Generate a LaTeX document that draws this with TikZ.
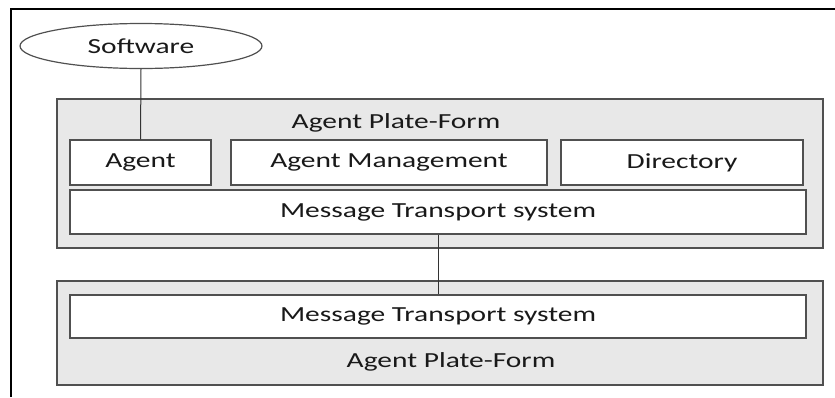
\documentclass[tikz,border=0pt]{standalone}
\usepackage{fontspec}
\setmainfont{Carlito}[FakeStretch=1.37]
\usetikzlibrary{shapes.geometric}

\definecolor{platgray}{HTML}{E8E8E8}
\definecolor{edgegray}{HTML}{505050}

\tikzset{
  txt/.style={font=\fontsize{21.5}{24}\selectfont, text=black!90},
  plat/.style={draw=edgegray, line width=1.2pt, fill=platgray, inner sep=0pt},
  comp/.style={txt, draw=edgegray, line width=1.2pt, fill=white, inner sep=0pt},
  link/.style={draw=black!80, line width=1pt}
}

\begin{document}
\begin{tikzpicture}[x=1pt, y=-1pt]
  \useasboundingbox (0,0) rectangle (835,397);

  % frame
  \draw [line width=2pt] (11,397) -- (11,9) -- (835,9);

  % software
  \node (sw) [txt, ellipse, draw=edgegray, line width=1.2pt, inner sep=0pt,
              minimum width=242pt, minimum height=45pt] at (141,46) {Software};

  % upper platform
  \node (apf1) [plat, minimum width=766pt, minimum height=149pt] at (440,173.5) {};
  \node (apf1l) [txt] at (396,123) {Agent Plate-Form};
  \node (agent) [comp, minimum width=141pt, minimum height=45pt] at (140.5,162.5) {Agent};
  \node (mgmt)  [comp, minimum width=316pt, minimum height=45pt] at (389,162.5) {Agent Management};
  \node (dir)   [comp, minimum width=242pt, minimum height=45pt] at (682,162.5) {Directory};
  \node (mts1)  [comp, minimum width=736pt, minimum height=44pt] at (438,212) {Message Transport system};

  % lower platform
  \node (apf2) [plat, minimum width=766pt, minimum height=104pt] at (440,333) {};
  \node (mts2)  [comp, minimum width=736pt, minimum height=43pt] at (438,316.5) {Message Transport system};
  \node (apf2l) [txt] at (451,362) {Agent Plate-Form};

  \draw [link] (sw.south) -- (agent.north);
  \draw [link] (mts1.south) -- (mts2.north);
\end{tikzpicture}
\end{document}
